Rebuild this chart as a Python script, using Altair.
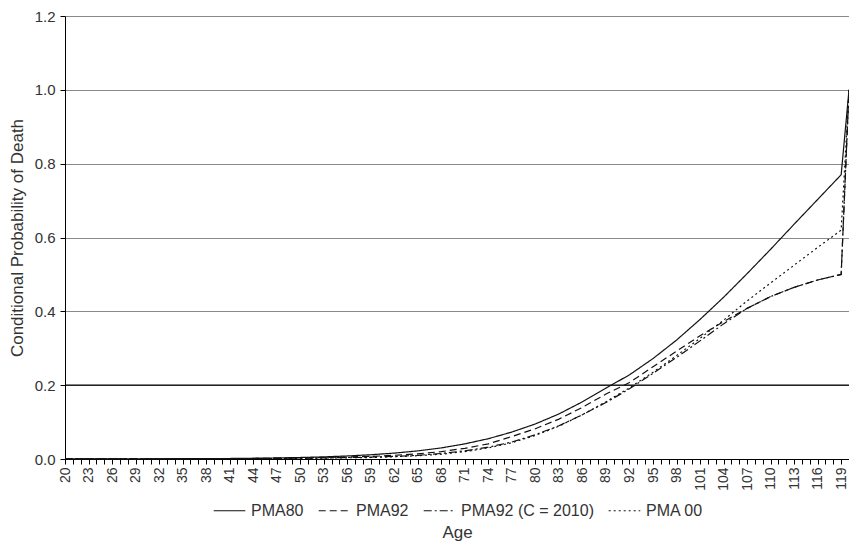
import altair as alt
import pandas as pd

ages = [20, 23, 26, 29, 32, 35, 38, 41, 44, 47, 50, 53, 56, 59, 62, 65, 68, 71, 74, 77,
        80, 83, 86, 89, 92, 95, 98, 101, 104, 107, 110, 113, 116, 119, 120]

pma80 = [0.0005, 0.0005, 0.0005, 0.0006, 0.0007, 0.0008, 0.0010, 0.0014, 0.0020, 0.0029,
         0.0041, 0.0058, 0.0082, 0.0115, 0.016, 0.022, 0.030, 0.041, 0.055, 0.073,
         0.095, 0.122, 0.155, 0.192, 0.228, 0.272, 0.322, 0.378, 0.438, 0.502,
         0.568, 0.636, 0.703, 0.770, 1.0]

pma92 = [0.0004, 0.0004, 0.0004, 0.0005, 0.0005, 0.0006, 0.0008, 0.0011, 0.0015, 0.0021,
         0.0029, 0.0040, 0.0055, 0.0070, 0.010, 0.014, 0.020, 0.029, 0.041, 0.061,
         0.082, 0.108, 0.140, 0.176, 0.207, 0.250, 0.292, 0.334, 0.372, 0.408,
         0.440, 0.465, 0.485, 0.500, 1.0]

pma92_c2010 = [0.0003, 0.0003, 0.0003, 0.0004, 0.0004, 0.0005, 0.0006, 0.0008, 0.0011, 0.0015,
               0.0021, 0.0029, 0.0040, 0.0050, 0.007, 0.010, 0.015, 0.022, 0.032, 0.046,
               0.066, 0.090, 0.120, 0.153, 0.190, 0.232, 0.275, 0.320, 0.366, 0.408,
               0.440, 0.465, 0.485, 0.500, 1.0]

pma00 = [0.0003, 0.0003, 0.0003, 0.0003, 0.0004, 0.0005, 0.0006, 0.0008, 0.0010, 0.0013,
         0.0018, 0.0025, 0.0033, 0.0040, 0.006, 0.009, 0.013, 0.020, 0.030, 0.044,
         0.064, 0.089, 0.120, 0.155, 0.193, 0.235, 0.280, 0.327, 0.376, 0.428,
         0.477, 0.525, 0.573, 0.620, 1.0]

series_names = ["PMA80", "PMA92", "PMA92 (C = 2010)", "PMA 00"]
series_values = [pma80, pma92, pma92_c2010, pma00]
dash_patterns = [[1, 0], [7, 4], [8, 3, 2, 3], [2, 3]]

y_ticks = [0.0, 0.2, 0.4, 0.6, 0.8, 1.0, 1.2]
x_ticks = list(range(20, 121))
dark_rule = [0.2]

rows = []
for name, vals in zip(series_names, series_values):
    for a, v in zip(ages, vals):
        rows.append({"Age": a, "q": v, "Series": name})
df = pd.DataFrame(rows)

FONT = "Liberation Sans"
TXT = "#333333"

x_enc = alt.X(
    "Age:Q",
    scale=alt.Scale(domain=[20, 120], nice=False, zero=False),
    axis=alt.Axis(
        values=x_ticks,
        labelExpr="(datum.value - 20) % 3 == 0 ? datum.label : ''",
        labelAngle=270,
        labelOverlap=False,
        labelFlush=False,
        labelFontSize=14,
        labelFont=FONT,
        labelColor=TXT,
        labelPadding=3,
        tickSize=5,
        tickColor="#000000",
        domainColor="#000000",
        grid=False,
        title="Age",
        titleFont=FONT,
        titleFontSize=17,
        titleFontWeight="normal",
        titleColor=TXT,
        titlePadding=34,
    ),
)

y_enc = alt.Y(
    "q:Q",
    scale=alt.Scale(domain=[0, 1.2], nice=False),
    axis=alt.Axis(
        values=y_ticks,
        format=".1f",
        labelFontSize=15,
        labelFont=FONT,
        labelColor=TXT,
        labelPadding=5,
        tickSize=5,
        tickColor="#000000",
        domainColor="#000000",
        grid=True,
        gridColor="#8a8a8a",
        gridWidth=1,
        title="Conditional Probability of Death",
        titleFont=FONT,
        titleFontSize=17,
        titleFontWeight="normal",
        titleColor=TXT,
        titlePadding=8,
    ),
)

lines = alt.Chart(df).mark_line(color="#111111", strokeWidth=1.2).encode(
    x=x_enc,
    y=y_enc,
    strokeDash=alt.StrokeDash(
        "Series:N",
        sort=series_names,
        scale=alt.Scale(domain=series_names, range=dash_patterns),
        legend=alt.Legend(
            title=None,
            orient="none",
            direction="horizontal",
            legendX=148,
            legendY=478,
            symbolType="stroke",
            symbolSize=1000,
            symbolStrokeColor="#111111",
            symbolStrokeWidth=1.2,
            labelFont=FONT,
            labelFontSize=16,
            labelColor=TXT,
            labelOffset=5,
            columnPadding=12,
        ),
    ),
)

rule = alt.Chart(pd.DataFrame({"y": dark_rule})).mark_rule(color="#000000", strokeWidth=1.2).encode(
    y=alt.Y("y:Q", scale=alt.Scale(domain=[0, 1.2], nice=False))
)

chart = alt.layer(rule, lines).properties(
    width=784,
    height=443,
    autosize=alt.AutoSizeParams(type="none"),
    padding={"left": 57, "top": 8, "right": 0, "bottom": 84},
).configure_view(stroke=None).configure(background="white")

chart.save("out.html", embed_options={"renderer": "svg", "actions": False})
